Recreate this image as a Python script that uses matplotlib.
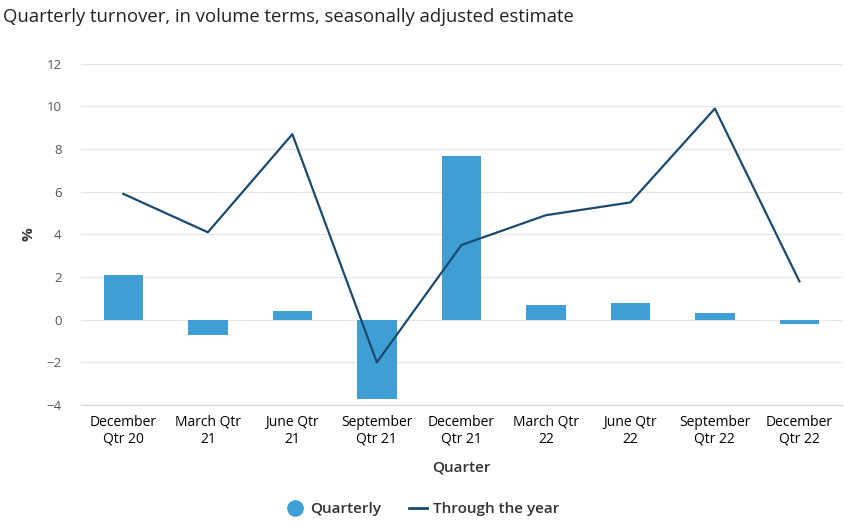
import matplotlib
matplotlib.use('Agg')
from matplotlib import pyplot as plt
from matplotlib.lines import Line2D
import numpy as np

quarters = ['December\nQtr 20', 'March Qtr\n21', 'June Qtr\n21', 'September\nQtr 21', 'December\nQtr 21',
            'March Qtr\n22', 'June Qtr\n22', 'September\nQtr 22', 'December\nQtr 22']
quarterly = [2.1, -0.7, 0.4, -3.7, 7.7, 0.7, 0.8, 0.3, -0.2]
through_year = [5.9, 4.1, 8.7, -2.0, 3.5, 4.9, 5.5, 9.9, 1.8]

plt.rcParams['font.family'] = ['Open Sans', 'DejaVu Sans']

bar_color = '#3f9fd4'
line_color = '#1a4a6e'
text_color = '#555555'

fig = plt.figure(figsize=(8.45, 5.23), dpi=100)
ax = fig.add_axes([0.096, 0.2256, 0.9, 0.6524])

x = np.arange(len(quarters))
ax.bar(x, quarterly, width=0.47, color=bar_color, zorder=2)
ax.plot(x, through_year, color=line_color, linewidth=1.6, zorder=3)

ax.set_xlim(-0.5, len(quarters) - 0.5)
ax.set_ylim(-4, 12)
ax.set_yticks(range(-4, 13, 2))
ax.set_yticklabels([str(v).replace('-', '\u2212') for v in range(-4, 13, 2)])
ax.set_xticks(x)
ax.set_xticklabels(quarters, fontsize=9.5, color=text_color, linespacing=1.4)
ax.tick_params(axis='y', labelsize=9.5, labelcolor=text_color, length=0, pad=14)
ax.tick_params(axis='x', length=0, pad=7)

ax.grid(axis='y', color='#e6e6e6', linewidth=0.9, zorder=0)
for s in ['top', 'right', 'left']:
    ax.spines[s].set_visible(False)
ax.spines['bottom'].set_color('#ccd6eb')
ax.spines['bottom'].set_position(('data', -4))

ax.set_ylabel('%', fontsize=11, color='#333333', fontweight='bold', labelpad=8)
ax.set_xlabel('Quarter', fontsize=11, color='#333333', fontweight='semibold', labelpad=10)

fig.text(0.004, 0.968, 'Quarterly turnover, in volume terms, seasonally adjusted estimate',
         fontsize=13.3, color='#222222', va='center', ha='left')

handles = [Line2D([0], [0], marker='o', color='none', markerfacecolor=bar_color, markeredgecolor=bar_color, markersize=11),
           Line2D([0], [0], color=line_color, linewidth=2)]
leg = fig.legend(handles, ['Quarterly', 'Through the year'], loc='center', bbox_to_anchor=(0.5, 0.027),
                 ncol=2, frameon=False, fontsize=11, handlelength=1.2, handletextpad=0.4, columnspacing=1.8,
                 labelcolor='#333333')
for t in leg.get_texts():
    t.set_fontweight('semibold')

fig.savefig('out.png', dpi=100)
